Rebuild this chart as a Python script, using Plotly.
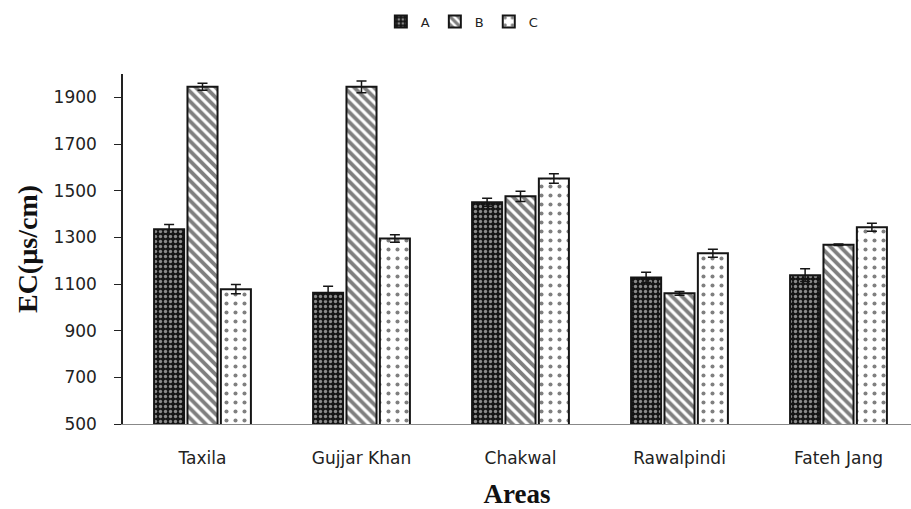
import plotly.graph_objects as go

areas = ["Taxila", "Gujjar Khan", "Chakwal", "Rawalpindi", "Fateh Jang"]
series_names = ["A", "B", "C"]
ec_a = [1335, 1062, 1450, 1128, 1138]
ec_b = [1945, 1945, 1476, 1060, 1268]
ec_c = [1078, 1295, 1552, 1232, 1343]
err_a = [20, 28, 17, 22, 27]
err_b = [15, 25, 22, 8, 3]
err_c = [20, 16, 20, 17, 17]
y_ticks = [500, 700, 900, 1100, 1300, 1500, 1700, 1900]

serif = "'Liberation Serif', 'Times New Roman', serif"
sans = "'DejaVu Sans', sans-serif"

patterns = [
    dict(shape=".", fgcolor="white", bgcolor="#151515", size=5, solidity=0.35),
    dict(shape="\\", fgcolor="#000", bgcolor="white", size=7, solidity=0.55),
    dict(shape=".", fgcolor="#000", bgcolor="white", size=9, solidity=0.16),
]

fig = go.Figure()
for name, vals, errs, pat in zip(series_names, [ec_a, ec_b, ec_c],
                                 [err_a, err_b, err_c], patterns):
    fig.add_trace(go.Bar(
        name=name, x=areas, y=vals,
        marker=dict(color="white", pattern=pat,
                    line=dict(color="#151515", width=2)),
        error_y=dict(type="data", array=errs, visible=True,
                     color="#151515", thickness=1.5, width=5),
    ))

fig.update_layout(
    width=911, height=509,
    margin=dict(l=123, r=0, t=74, b=85),
    paper_bgcolor="white", plot_bgcolor="white",
    barmode="group", bargap=0.37, bargroupgap=0.1,
    font=dict(family=sans, color="#222"),
    legend=dict(orientation="h", x=0.43, xanchor="center", y=1.15,
                yanchor="middle", font=dict(size=13, family=sans),
                itemwidth=30, traceorder="normal"),
    xaxis=dict(range=[-0.5, 4.456], showline=True, linecolor="#888",
               linewidth=1, ticks="", tickfont=dict(size=17),
               ticklabelstandoff=19,
               title=dict(text="<b>Areas</b>", standoff=18,
                          font=dict(family=serif, size=27, color="#111"))),
    yaxis=dict(range=[500, 2000], tickvals=y_ticks, showgrid=False,
               showline=True, linecolor="#222", linewidth=1.5,
               ticks="outside", ticklen=7, tickcolor="#222",
               tickfont=dict(size=17), zeroline=False,
               ticklabelstandoff=14,
               title=dict(text="<b>EC(µs/cm)</b>", standoff=8,
                          font=dict(family=serif, size=28, color="#111"))),
)

fig.write_html("out.html")
